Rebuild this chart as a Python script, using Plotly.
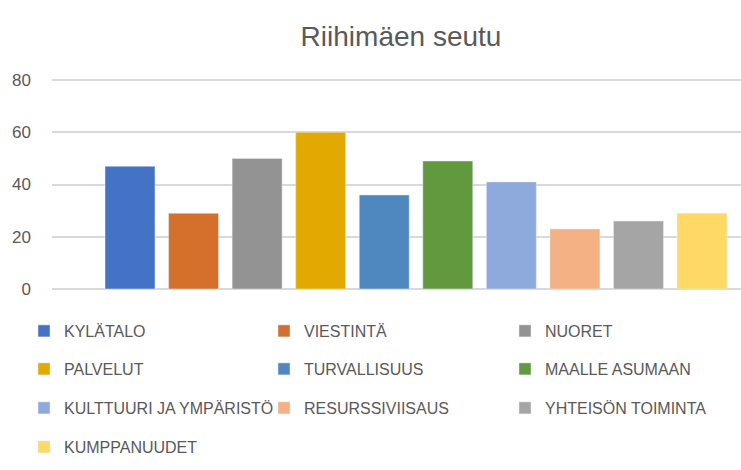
import plotly.graph_objects as go

categories = ["KYLÄTALO", "VIESTINTÄ", "NUORET", "PALVELUT", "TURVALLISUUS",
              "MAALLE ASUMAAN", "KULTTUURI JA YMPÄRISTÖ", "RESURSSIVIISAUS",
              "YHTEISÖN TOIMINTA", "KUMPPANUUDET"]
values = [47, 29, 50, 60, 36, 49, 41, 23, 26, 29]
colors = ["#4472C4", "#D4702B", "#939393", "#E2A900", "#4E88BE",
          "#62993F", "#8EA9DB", "#F4B183", "#A5A5A5", "#FFD966"]
y_ticks = [0, 20, 40, 60, 80]

W, H = 741, 470
ML, MR, MT, MB = 52, 0, 76, 176
PW = W - ML - MR
PH = H - MT - MB
# y=0 at px 289, y=80 at px 80
upp = 80 / 209
y_top = 80 + (80 - MT) * upp
y_bot = 0 - (H - MB - 289) * upp

fig = go.Figure()
layout_legends = {}
col_text_px = [64, 304, 545]
row_center_px = [331, 369, 408, 447]
for i, (c, v, col) in enumerate(zip(categories, values, colors)):
    lname = "legend" if i == 0 else f"legend{i+1}"
    fig.add_trace(go.Bar(x=[c], y=[v], name=c, marker_color=col,
                         width=0.786, legend=lname, showlegend=True))
    r, cc = divmod(i, 3)
    lx = (col_text_px[cc] - 40 - ML) / PW
    ly = (H - MB - row_center_px[r]) / PH
    layout_legends[lname] = dict(
        x=lx, xanchor="left", y=ly, yanchor="middle", orientation="h",
        font=dict(family="Liberation Sans, Arial, sans-serif",
                  size=16, color="#595959"),
        bgcolor="rgba(0,0,0,0)", borderwidth=0,
    )

fig.update_layout(
    width=W, height=H,
    margin=dict(l=ML, r=MR, t=MT, b=MB, pad=0),
    paper_bgcolor="white", plot_bgcolor="white",
    barmode="overlay",
    title=dict(text="Riihimäen seutu", x=401 / W, xanchor="center",
               y=1 - 36 / H, yanchor="middle", xref="container", yref="container",
               font=dict(family="Liberation Sans, Arial, sans-serif", size=28,
                         color="#595959")),
    xaxis=dict(type="category", categoryorder="array", categoryarray=categories,
               range=[-1.227, 9.613], showticklabels=False, showgrid=False,
               zeroline=False, showline=False, ticks=""),
    yaxis=dict(range=[y_bot, y_top], tickvals=y_ticks, showgrid=True,
               gridcolor="#D9D9D9", gridwidth=1.5, zeroline=False,
               showline=False, ticks="", ticklabelstandoff=20,
               tickfont=dict(family="Liberation Sans, Arial, sans-serif",
                             size=17, color="#595959")),
    **layout_legends,
)

fig.write_html("out.html")
